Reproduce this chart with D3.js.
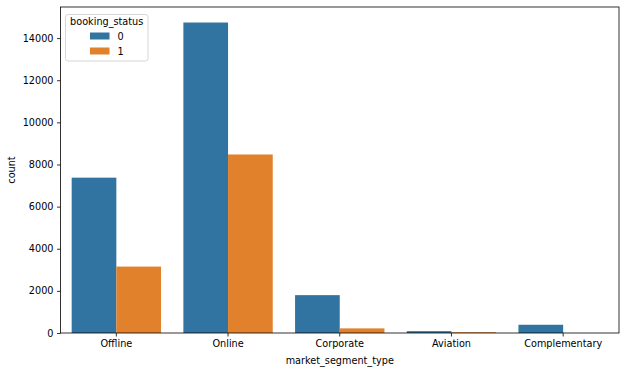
<!DOCTYPE html>
<html><head><meta charset="utf-8">
<script src="https://cdn.jsdelivr.net/npm/d3@7"></script>
<style>body{margin:0;background:#fff}svg{display:block}text{font-family:"DejaVu Sans",sans-serif}</style>
</head><body><svg id="c" width="625" height="372"></svg>
<script>
const categories = ["Offline","Online","Corporate","Aviation","Complementary"];
const hues = ["0","1"];
const status0 = [7375,14739,1797,88,391];
const status1 = [3153,8475,220,37,0];
const yTicks = [0,2000,4000,6000,8000,10000,12000,14000];
const colors = ["#3274a1","#e1812c"];

const svg = d3.select("#c");
const m = {l:60.5, r:619, t:7, b:333};
const x = d3.scaleBand().domain(categories).range([m.l,m.r]).paddingInner(0).paddingOuter(0);
const y = d3.scaleLinear().domain([0,15476]).range([m.b,m.t]);
const inner = d3.scaleBand().domain(hues).range([0,x.bandwidth()*0.8]);
const series = [status0,status1];
const fs = 9.7;

const g = svg.append("g");
hues.forEach((h,hi)=>{
  g.selectAll(null).data(categories).enter().append("rect")
    .attr("x",c=>x(c)+x.bandwidth()*0.1+inner(h))
    .attr("width",inner.bandwidth())
    .attr("y",(c,i)=>y(series[hi][i]))
    .attr("height",(c,i)=>y(0)-y(series[hi][i]))
    .attr("fill",colors[hi]);
});

const xa = svg.append("g").attr("transform",`translate(0,${m.b})`)
  .call(d3.axisBottom(x).tickSize(3.5).tickSizeOuter(0).tickPadding(3.5));
const ya = svg.append("g").attr("transform",`translate(${m.l},0)`)
  .call(d3.axisLeft(y).tickValues(yTicks).tickFormat(d3.format("d")).tickSize(3.5).tickSizeOuter(0).tickPadding(3.5));
[xa,ya].forEach(a=>{a.select(".domain").remove();a.selectAll("text").attr("font-size",fs).attr("fill","#000").style("font-family","DejaVu Sans");a.selectAll("line").attr("stroke","#000").attr("stroke-width",0.8);});

svg.append("rect").attr("x",m.l).attr("y",m.t).attr("width",m.r-m.l).attr("height",m.b-m.t)
  .attr("fill","none").attr("stroke","#000").attr("stroke-width",0.8);

svg.append("text").attr("x",(m.l+m.r)/2).attr("y",363.5).attr("text-anchor","middle").attr("font-size",fs).text("market_segment_type");
svg.append("text").attr("transform",`translate(15,${(m.t+m.b)/2}) rotate(-90)`).attr("text-anchor","middle").attr("font-size",fs).text("count");

// legend
const lg = svg.append("g");
lg.append("rect").attr("x",65.5).attr("y",14.5).attr("width",82.5).attr("height",46.5).attr("rx",2.5)
  .attr("fill","#fff").attr("fill-opacity",0.8).attr("stroke","#cccccc").attr("stroke-width",0.8);
lg.append("text").attr("x",106.7).attr("y",25).attr("text-anchor","middle").attr("font-size",fs).text("booking_status");
hues.forEach((h,i)=>{
  const cy = 36 + i*15;
  lg.append("rect").attr("x",90).attr("y",cy-3.5).attr("width",19.5).attr("height",7).attr("fill",colors[i]);
  lg.append("text").attr("x",117.5).attr("y",cy+3.5).attr("font-size",fs).text(h);
});
</script></body></html>
